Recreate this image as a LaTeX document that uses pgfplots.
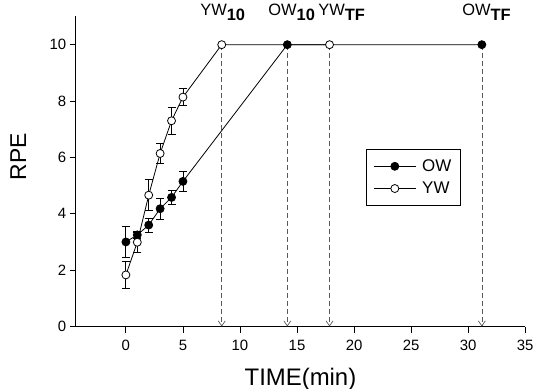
\documentclass[border=0pt]{standalone}
\usepackage{fontspec}
\setmainfont{Liberation Sans}
\usepackage{pgfplots}
\pgfplotsset{compat=1.18}
\usetikzlibrary{arrows.meta}
\begin{document}
\begin{tikzpicture}
\begin{axis}[
  at={(0,0)}, anchor=south west,
  scale only axis, width=449.5bp, height=310bp,
  xmin=-4.4, xmax=35, ymin=0, ymax=11,
  axis x line*=bottom, axis y line*=left,
  axis line style={line width=0.9bp},
  xtick={0,5,...,35}, ytick={0,2,...,10},
  tick align=outside, major tick length=6bp,
  tick style={black, line width=0.8bp},
  /pgf/number format/assume math mode=true,
  tick label style={font=\fontsize{15}{15}\selectfont},
  xticklabel style={yshift=-4bp},
  xlabel={TIME(min)}, ylabel={RPE},
  xlabel style={font=\fontsize{24}{24}\selectfont, at={(axis description cs:0.5,-0.1887)}, anchor=base},
  ylabel style={font=\fontsize{23}{23}\selectfont, at={(axis description cs:-0.1277,0.547)}, anchor=center, rotate=0},
  clip=false,
  legend style={at={(axis description cs:0.646,0.5716)}, anchor=north west, draw=black, line width=0.7bp,
    font=\fontsize{17}{17}\selectfont, inner xsep=7bp, inner ysep=8bp, row sep=5bp, cells={anchor=west}},
  legend image code/.code={\draw[#1, mark repeat=2, mark phase=2] plot coordinates {(0bp,0bp) (21bp,0bp) (42bp,0bp)}; \path (46bp,0bp);},
]
% dashed arrows
\addplot[forget plot, dash pattern=on 5bp off 3bp, gray!70!black, line width=0.7bp, -{Straight Barb[length=5bp,width=7bp]}] coordinates {(8.4,10) (8.4,0)};
\addplot[forget plot, dash pattern=on 5bp off 3bp, gray!70!black, line width=0.7bp, -{Straight Barb[length=5bp,width=7bp]}] coordinates {(14.15,10) (14.15,0)};
\addplot[forget plot, dash pattern=on 5bp off 3bp, gray!70!black, line width=0.7bp, -{Straight Barb[length=5bp,width=7bp]}] coordinates {(17.85,10) (17.85,0)};
\addplot[forget plot, dash pattern=on 5bp off 3bp, gray!70!black, line width=0.7bp, -{Straight Barb[length=5bp,width=7bp]}] coordinates {(31.2,10) (31.2,0)};
% OW
\addplot[black, line width=0.8bp, mark=*, mark size=4bp, mark options={fill=black},
  error bars/.cd, y dir=both, y explicit, error bar style={line width=0.8bp}, error mark options={rotate=90, mark size=4bp, line width=0.8bp}]
  coordinates {
  (0,3.0) +- (0,0.55)
  (1,3.25) +- (0,0.13)
  (2,3.6) +- (0,0.25)
  (3,4.18) +- (0,0.37)
  (4,4.58) +- (0,0.24)
  (5,5.15) +- (0,0.36)
  (14.15,10) +- (0,0)
  (31.2,10) +- (0,0)
  };
\addlegendentry{OW}
% YW
\addplot[black, line width=0.8bp, mark=*, mark size=4bp, mark options={fill=white},
  error bars/.cd, y dir=both, y explicit, error bar style={line width=0.8bp}, error mark options={rotate=90, mark size=4bp, line width=0.8bp}]
  coordinates {
  (0,1.83) +- (0,0.48)
  (1,2.99) +- (0,0.35)
  (2,4.66) +- (0,0.55)
  (3,6.14) +- (0,0.37)
  (4,7.3) +- (0,0.48)
  (5,8.14) +- (0,0.31)
  (8.4,10) +- (0,0)
  (17.85,10) +- (0,0)
  };
\addlegendentry{YW}
% top labels
\node[anchor=base west, inner sep=0pt, font=\fontsize{16.5}{16.5}\selectfont] at (axis cs:6.51,11.05) {YW\raisebox{-5bp}{\bfseries 10}};
\node[anchor=base west, inner sep=0pt, font=\fontsize{16.5}{16.5}\selectfont] at (axis cs:12.47,11.05) {OW\raisebox{-5bp}{\bfseries 10}};
\node[anchor=base west, inner sep=0pt, font=\fontsize{16.5}{16.5}\selectfont] at (axis cs:16.85,11.05) {YW\raisebox{-5bp}{\bfseries TF}};
\node[anchor=base west, inner sep=0pt, font=\fontsize{16.5}{16.5}\selectfont] at (axis cs:29.47,11.05) {OW\raisebox{-5bp}{\bfseries TF}};
\end{axis}
\pgfresetboundingbox
\path[use as bounding box] (-75.7bp,-62.5bp) rectangle (459.3bp,326.5bp);
\end{tikzpicture}
\end{document}
